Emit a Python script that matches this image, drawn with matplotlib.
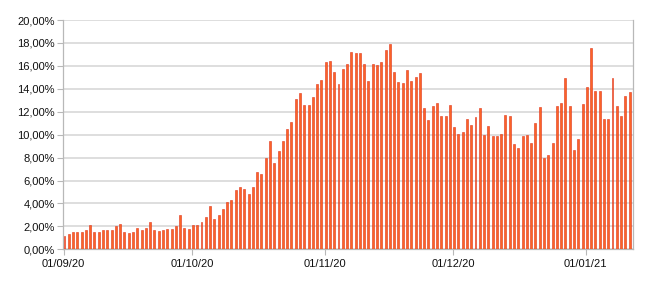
import matplotlib
matplotlib.use("Agg")
import matplotlib.pyplot as plt
import matplotlib.dates as mdates
import pandas as pd
from matplotlib.ticker import FuncFormatter

# daily positivity rate (%), one bar per day from 01/09/20
start_date = "2020-09-01"
rates = [
    1.2, 1.35, 1.5, 1.55, 1.55, 1.65, 2.1, 1.5, 1.5, 1.7,
    1.65, 1.65, 2.0, 2.2, 1.55, 1.45, 1.55, 1.9, 1.65, 1.9,
    2.4, 1.65, 1.6, 1.65, 1.8, 1.8, 2.0, 2.95, 1.85, 1.75,
    2.15, 2.1, 2.4, 2.8, 3.75, 2.65, 3.0, 3.5, 4.15, 4.3,
    5.2, 5.4, 5.25, 4.85, 5.4, 6.7, 6.6, 8.0, 9.45, 7.5,
    8.55, 9.45, 10.5, 11.1, 13.15, 13.65, 12.6, 12.55, 13.3, 14.4,
    14.75, 16.3, 16.4, 15.5, 14.4, 15.7, 16.15, 17.2, 17.1, 17.1,
    16.15, 14.65, 16.2, 16.05, 16.35, 17.4, 17.95, 15.45, 14.6, 14.5,
    15.65, 14.7, 15.05, 15.4, 12.35, 11.25, 12.5, 12.75, 11.65, 11.65,
    12.55, 10.65, 10.05, 10.25, 11.35, 10.8, 11.55, 12.35, 10.0, 10.75,
    9.9, 9.85, 10.1, 11.75, 11.65, 9.15, 8.85, 9.85, 10.0, 9.3,
    11.0, 12.4, 8.0, 8.25, 9.3, 12.5, 12.8, 14.9, 12.5, 8.7,
    9.6, 12.65, 14.15, 17.6, 13.85, 13.85, 11.4, 11.4, 14.9, 12.5,
    11.6, 13.35, 13.7,
]
tick_dates = ["2020-09-01", "2020-10-01", "2020-11-01", "2020-12-01", "2021-01-01"]
y_ticks = [0, 2, 4, 6, 8, 10, 12, 14, 16, 18, 20]

days = pd.date_range(start_date, periods=len(rates), freq="D")

plt.rcParams["font.family"] = ["Liberation Sans", "DejaVu Sans"]

fig = plt.figure(figsize=(6.5, 2.85), dpi=100)
ax = fig.add_axes([0.0974, 0.1253, 0.877, 0.8045])

ax.bar(days, rates, width=0.46, align="edge", color="#fa6426",
       edgecolor="#e0321a", linewidth=0.4, zorder=3)

ax.set_ylim(0, 20)
ax.set_yticks(y_ticks)
ax.yaxis.set_major_formatter(FuncFormatter(lambda v, p: f"{v:.2f}%".replace(".", ",")))
ax.yaxis.grid(True, color="#d4d4d4", linewidth=1.1, zorder=0)

x0 = pd.Timestamp(start_date)
ax.set_xlim(x0 - pd.Timedelta(days=0.05), x0 + pd.Timedelta(days=133.1))
ax.set_xticks(pd.to_datetime(tick_dates))
ax.xaxis.set_major_formatter(mdates.DateFormatter("%d/%m/%y"))

for side in ["left", "right", "bottom"]:
    ax.spines[side].set_color("#b8b8b8")
    ax.spines[side].set_linewidth(0.9)
ax.spines["top"].set_visible(False)

ax.tick_params(axis="y", length=4, color="#b8b8b8", labelsize=8, pad=2, labelcolor="#111111")
ax.tick_params(axis="x", length=4, color="#b8b8b8", labelsize=8, pad=3, labelcolor="#111111")

fig.savefig("out.png", dpi=100)
